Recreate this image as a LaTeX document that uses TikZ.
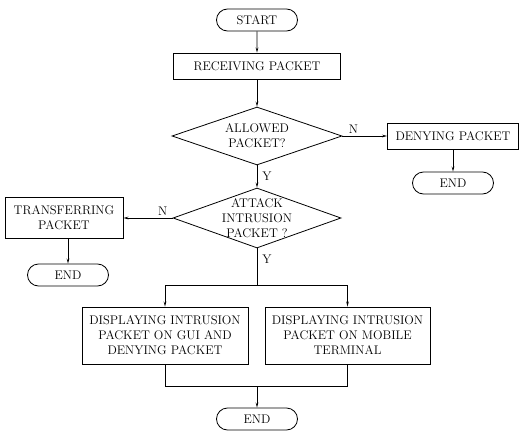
\documentclass[tikz,border=0pt]{standalone}
\usepackage{tikz}
\usetikzlibrary{shapes.geometric, shapes.misc, arrows.meta, positioning}

\begin{document}
\begin{tikzpicture}[x=1pt, y=-1pt,
  every node/.style={font=\fontsize{12.5}{15}\selectfont, inner sep=1pt, align=center},
  procbox/.style={draw, rectangle, line width=0.8pt},
  termbox/.style={draw, rounded rectangle, line width=0.8pt, minimum width=83pt, minimum height=22pt},
  decbox/.style={draw, diamond, aspect=3, inner sep=0pt, line width=0.8pt},
  arr/.style={-{Stealth[length=5pt, width=2.6pt]}, line width=0.8pt},
  ln/.style={line width=0.8pt}]
\useasboundingbox (0,0) rectangle (520,431);
% Main column
\node[termbox] (start) at (257,20) {START};
\node[procbox, minimum width=167pt, minimum height=26pt] (recv) at (257,66) {RECEIVING PACKET};
\node[decbox, minimum width=170pt, minimum height=58pt] (allow) at (257,136) {ALLOWED\\PACKET?};
\node[decbox, minimum width=168pt, minimum height=60pt,
  label={[align=center]center:ATTACK\\INTRUSION\\PACKET ?}] (attack) at (257,218) {};
% Side branches
\node[procbox, minimum width=131pt, minimum height=26pt] (deny) at (453,136) {DENYING PACKET};
\node[termbox] (endA) at (453,183) {END};
\node[procbox, minimum width=118pt, minimum height=41pt] (trans) at (64,218) {TRANSFERRING\\PACKET};
\node[termbox] (endB) at (68,275) {END};
% Display boxes
\node[procbox, minimum width=166pt, minimum height=57pt] (gui) at (165,335.5) {DISPLAYING INTRUSION\\PACKET ON GUI AND\\DENYING PACKET};
\node[procbox, minimum width=165pt, minimum height=57pt] (mobile) at (347.5,335.5) {DISPLAYING INTRUSION\\PACKET ON MOBILE\\TERMINAL};
\node[termbox] (endC) at (257,419) {END};
\coordinate (split) at (257,285);
\coordinate (merge) at (257,386);
% Connectors
\draw[arr] (start) -- (recv);
\draw[arr] (recv) -- (allow);
\draw[arr] (allow.east) -- node[above=1pt, pos=0.25] {N} (deny.west);
\draw[arr] (deny) -- (endA);
\draw[arr] (allow.south) -- node[right=4pt, pos=0.5] {Y} (attack.north);
\draw[arr] (attack.west) -- node[above=1pt, pos=0.2] {N} (trans.east);
\draw[arr] (trans.south -| endB.north) -- (endB.north);
\draw[ln] (attack.south) -- node[right=4pt, pos=0.3] {Y} (split);
\draw[arr] (split) -| (gui.north);
\draw[arr] (split) -| (mobile.north);
\draw[ln] (gui.south) |- (merge);
\draw[ln] (mobile.south) |- (merge);
\draw[arr] (merge) -- (endC.north);
\end{tikzpicture}
\end{document}
